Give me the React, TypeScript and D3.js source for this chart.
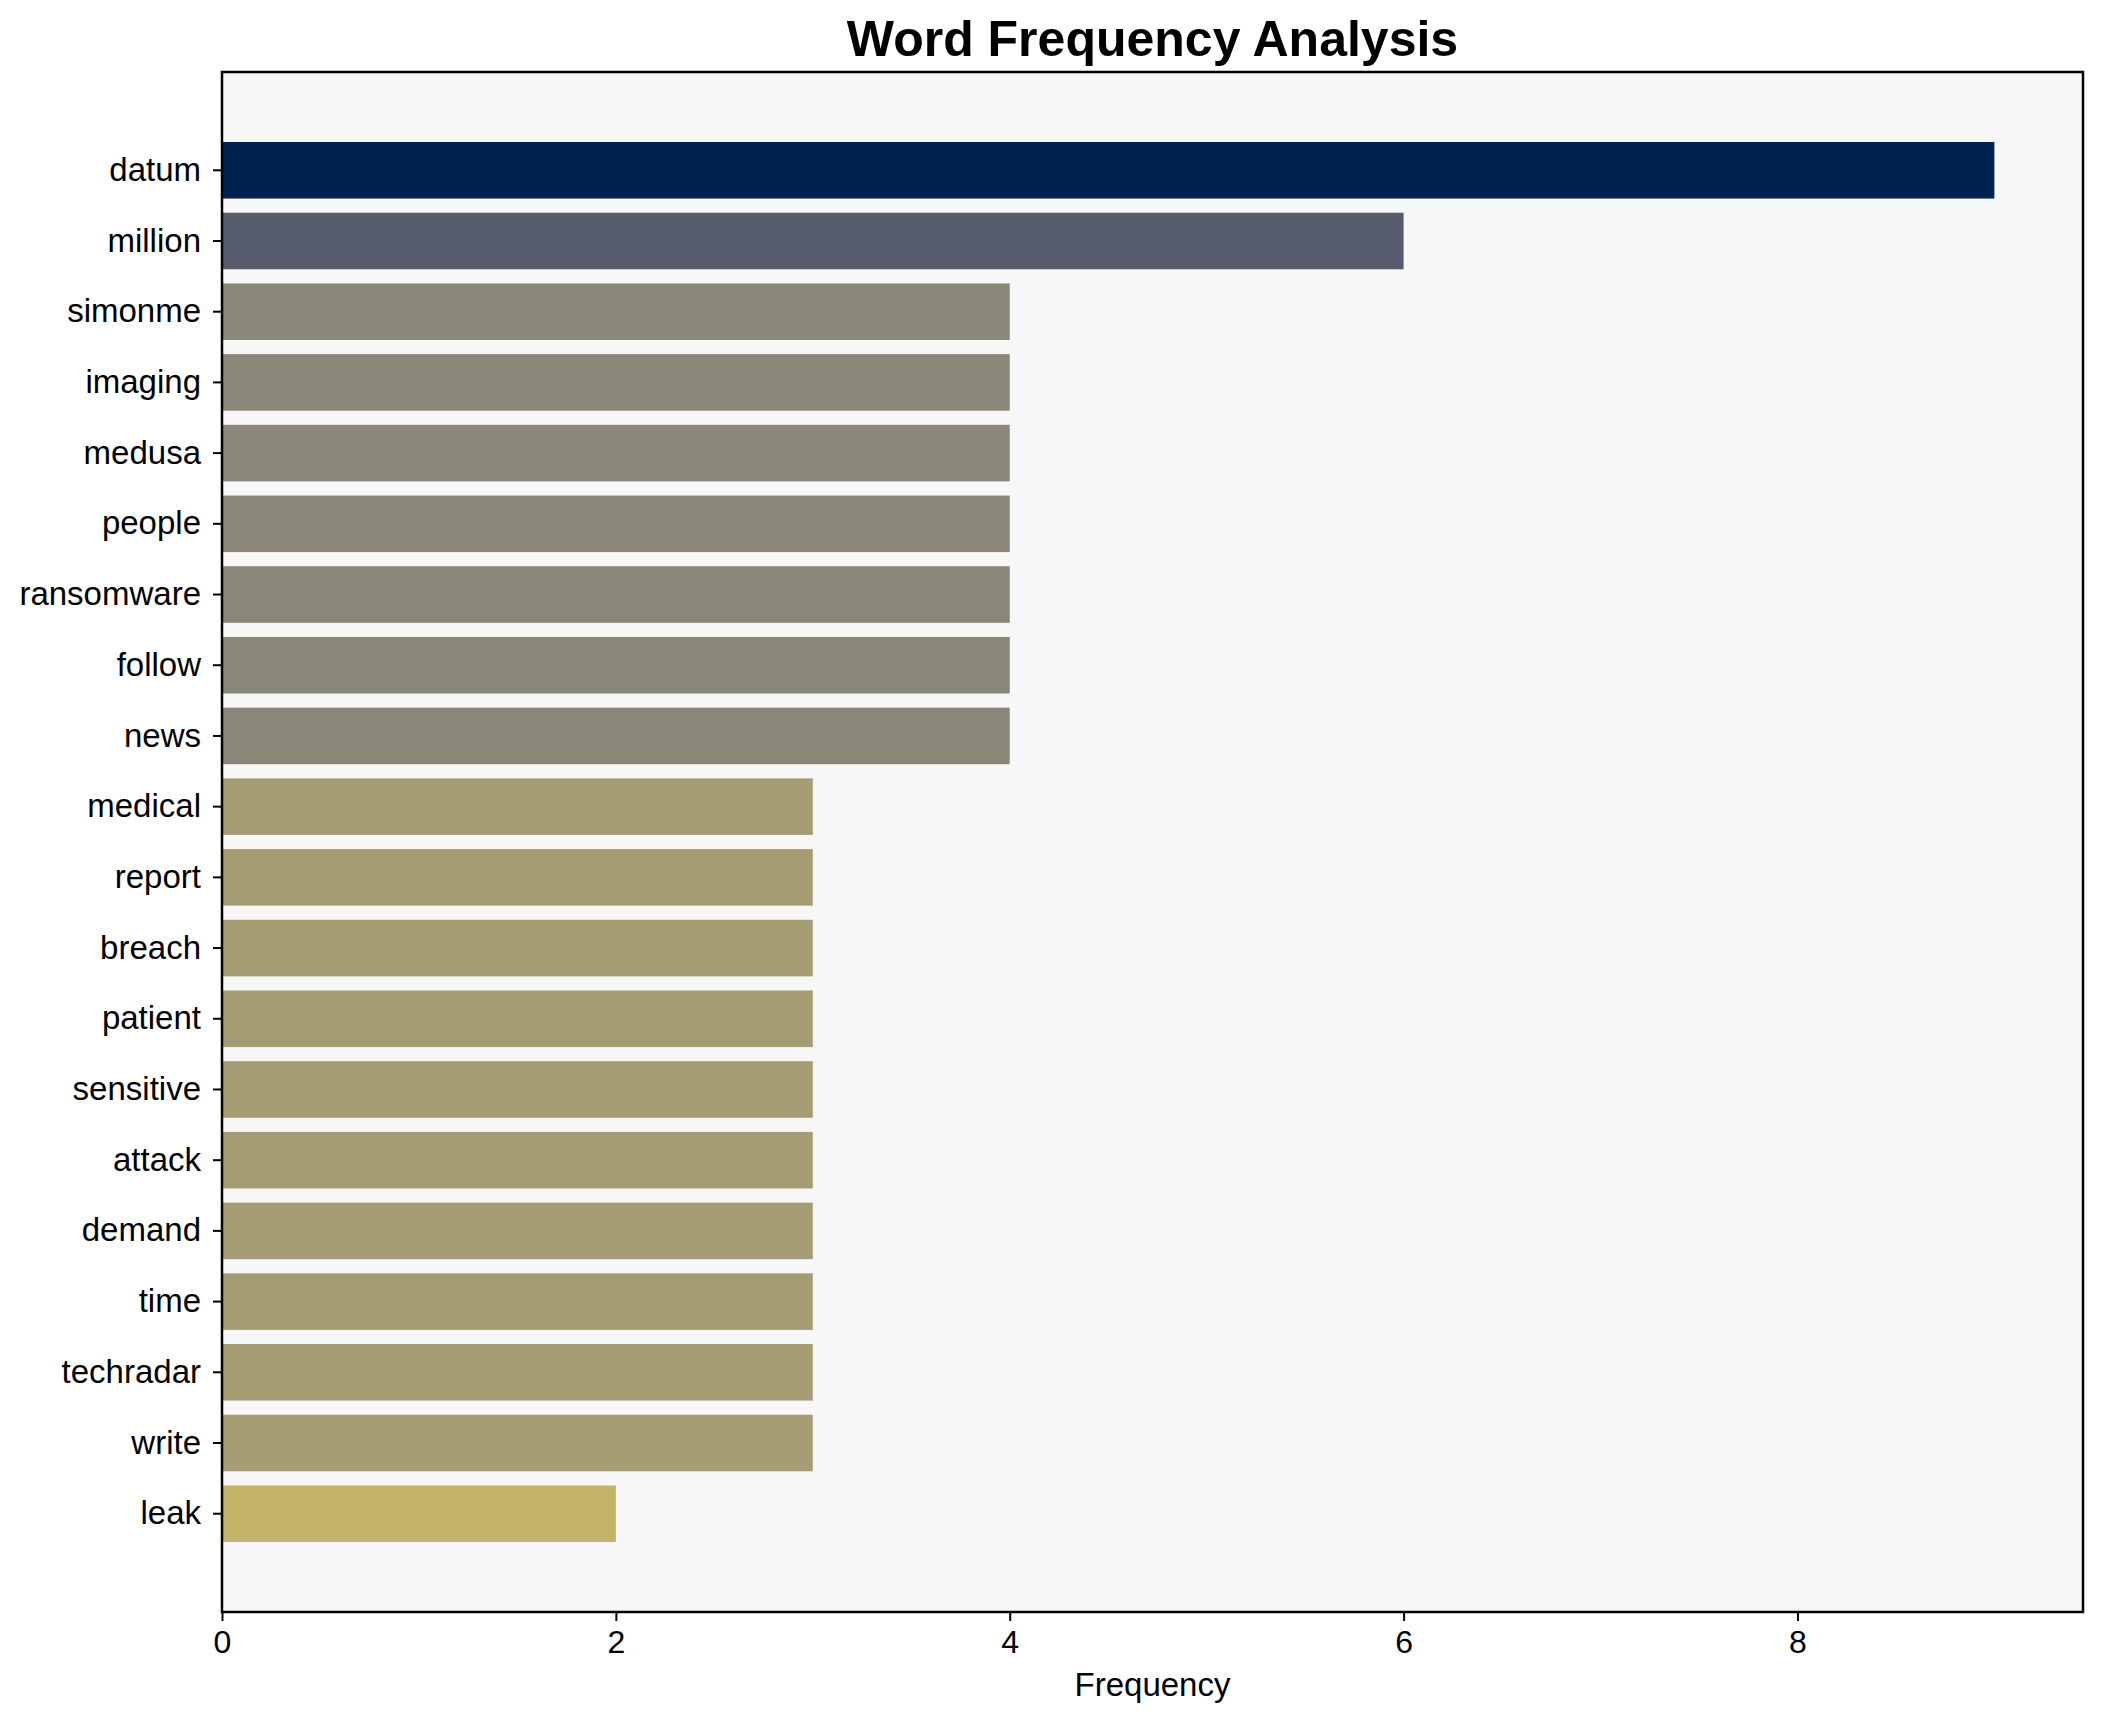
import { useEffect, useRef } from 'react';
import * as d3 from 'd3';

// word list, top to bottom
const words = [
  'datum', 'million', 'simonme', 'imaging', 'medusa', 'people', 'ransomware',
  'follow', 'news', 'medical', 'report', 'breach', 'patient', 'sensitive',
  'attack', 'demand', 'time', 'techradar', 'write', 'leak',
];
const counts = [9, 6, 4, 4, 4, 4, 4, 4, 4, 3, 3, 3, 3, 3, 3, 3, 3, 3, 3, 2];
const xTicks = [0, 2, 4, 6, 8];

// cividis-like colours per frequency level
const levels = [9, 6, 4, 3, 2];
const levelColors = ['#00224e', '#575c6d', '#8a8678', '#a59c74', '#c3b369'];

const W = 2102;
const H = 1722;
const FONT = '"Liberation Sans", Arial, sans-serif';

export default function App() {
  const svgRef = useRef<SVGSVGElement | null>(null);

  useEffect(() => {
    const margin = { top: 72, right: 19, bottom: 110, left: 222 };
    const width = W - margin.left - margin.right;
    const height = H - margin.top - margin.bottom;

    const svg = d3.select(svgRef.current);
    svg.selectAll('*').remove();

    svg.append('rect').attr('width', W).attr('height', H).attr('fill', '#ffffff');

    const g = svg
      .append('g')
      .attr('transform', `translate(${margin.left},${margin.top})`);

    const maxV = d3.max(counts) as number;
    const x = d3.scaleLinear().domain([0, maxV * 1.05]).range([0, width]);
    const y = d3
      .scaleBand<string>()
      .domain(words)
      .range([0, height])
      .paddingInner(0.2)
      .paddingOuter(0.99);
    const color = d3.scaleOrdinal<number, string>().domain(levels).range(levelColors);

    // plot background
    g.append('rect')
      .attr('width', width)
      .attr('height', height)
      .attr('fill', '#f7f7f7');

    // bars
    g.selectAll('.bar')
      .data(words)
      .enter()
      .append('rect')
      .attr('class', 'bar')
      .attr('x', x(0))
      .attr('y', (d) => y(d) as number)
      .attr('width', (_d, i) => x(counts[i]) - x(0))
      .attr('height', y.bandwidth())
      .attr('fill', (_d, i) => color(counts[i]));

    // x axis
    const xAxis = g
      .append('g')
      .attr('transform', `translate(0,${height})`)
      .call(
        d3.axisBottom(x).tickValues(xTicks).tickSize(9).tickPadding(9).tickFormat(d3.format('d'))
      );
    xAxis.select('.domain').remove();
    xAxis.selectAll('line').attr('stroke', '#000').attr('stroke-width', 2);
    xAxis
      .selectAll('text')
      .attr('font-family', FONT)
      .attr('font-size', 32)
      .attr('fill', '#000');

    // y axis
    const yAxis = g
      .append('g')
      .call(d3.axisLeft(y).tickSize(9).tickPadding(12));
    yAxis.select('.domain').remove();
    yAxis.selectAll('line').attr('stroke', '#000').attr('stroke-width', 2);
    yAxis
      .selectAll('text')
      .attr('font-family', FONT)
      .attr('font-size', 33)
      .attr('fill', '#000');

    // frame
    g.append('rect')
      .attr('width', width)
      .attr('height', height)
      .attr('fill', 'none')
      .attr('stroke', '#000')
      .attr('stroke-width', 2.5);

    // x label
    g.append('text')
      .attr('x', width / 2)
      .attr('y', height + 84)
      .attr('text-anchor', 'middle')
      .attr('font-family', FONT)
      .attr('font-size', 33)
      .attr('fill', '#000')
      .text('Frequency');

    // title
    svg
      .append('text')
      .attr('x', margin.left + width / 2)
      .attr('y', 56)
      .attr('text-anchor', 'middle')
      .attr('font-family', FONT)
      .attr('font-size', 50)
      .attr('font-weight', 'bold')
      .attr('fill', '#000')
      .text('Word Frequency Analysis');
  }, []);

  return (
    <div>
      <style>{'body{margin:0}'}</style>
      <svg ref={svgRef} width={W} height={H}></svg>
    </div>
  );
}
